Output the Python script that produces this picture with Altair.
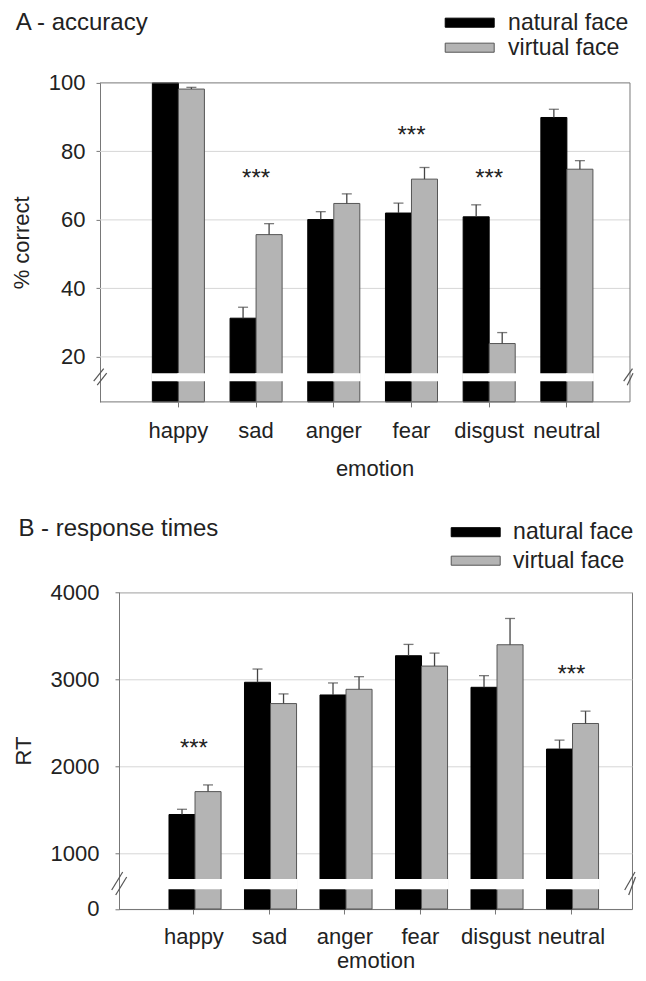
import altair as alt
import pandas as pd

# ---------------- data ----------------
emotions = ["happy", "sad", "anger", "fear", "disgust", "neutral"]
faces = ["natural face", "virtual face"]

acc_natural = [100.0, 31.3, 60.1, 62.0, 60.9, 89.9]
acc_natural_se = [0.0, 3.2, 2.3, 2.9, 3.5, 2.4]
acc_virtual = [98.2, 55.7, 64.8, 71.9, 23.9, 74.8]
acc_virtual_se = [0.5, 3.2, 2.8, 3.4, 3.2, 2.5]

rt_natural = [1446, 2966, 2820, 3271, 2908, 2198]
rt_natural_se = [60, 152, 138, 130, 134, 103]
rt_virtual = [1709, 2721, 2885, 3152, 3397, 2492]
rt_virtual_se = [77, 111, 145, 149, 302, 142]

acc_sig = ["sad", "fear", "disgust"]
acc_sig_y = [73.1, 85.6, 73.1]
rt_sig = ["happy", "neutral"]
rt_sig_y = [2237, 3087]

acc_ticks = [20, 40, 60, 80, 100]
rt_ticks = [360, 1000, 2000, 3000, 4000]   # lowest tick is labelled 0 (broken axis)
acc_grid = [20, 40, 60, 80]
acc_domain = [6.86, 100]
rt_domain = [360, 4000]
acc_break = [13.2, 14.95]
rt_break = [598, 693]
# axis-break slashes: (y_low, y_high) in data units
acc_slashes = [(12.9, 16.56), (11.74, 15.24)]
rt_slashes = [(578, 785), (521, 728)]

FONT = "Liberation Sans"
FS = 22
GRID = "#d6d6d6"
AXC = "#777777"
TXT = "#222222"


def make_df(nat, nat_se, vir, vir_se):
    rows = []
    for i, e in enumerate(emotions):
        rows.append({"emotion": e, "face": faces[0], "value": nat[i], "se": nat_se[i],
                     "hi": nat[i] + nat_se[i]})
        rows.append({"emotion": e, "face": faces[1], "value": vir[i], "se": vir_se[i],
                     "hi": vir[i] + vir_se[i]})
    return pd.DataFrame(rows)


def panel(df, sig, sig_y, domain, ticks, grid, brk, slashes, title, ytitle, g):
    W, H, off = g["W"], g["H"], g["off"]
    xscale = alt.Scale(domain=emotions, paddingInner=g["pi"], paddingOuter=g["po"], align=g["al"])
    xenc = alt.X("emotion:N", scale=xscale,
                 axis=alt.Axis(title="emotion", labelAngle=0, tickSize=5, labelPadding=g["lp"],
                               titleY=g["xty"], titleBaseline="alphabetic", domain=(off == 0),
                               domainColor=AXC, tickColor=AXC, grid=False))
    xs = alt.X("emotion:N", scale=xscale)
    xoff = alt.XOffset("face:N", scale=alt.Scale(domain=faces))
    yscale = alt.Scale(domain=domain, zero=False, nice=False)
    yaxis = alt.Axis(title=ytitle, values=ticks, format="d", grid=(off == 0), gridColor=GRID,
                     offset=off, domainColor=AXC, tickColor=AXC, tickSize=4, labelPadding=g["ylp"],
                     titleX=g["ytx"], titleBaseline="alphabetic",
                     labelExpr=("datum.value < 500 ? '0' : datum.label") if g.get("zero") else "datum.label")
    legend = alt.Legend(orient="none", legendX=g["lx"], legendY=g["ly"], title=None,
                        symbolType="M-2,-0.37L2,-0.37L2,0.37L-2,0.37Z", symbolSize=600,
                        labelFontSize=23, labelFont=FONT, labelColor=TXT, labelOffset=g["lo"],
                        rowPadding=g["rp"], padding=0, symbolStrokeWidth=1)
    base = alt.Chart(df)
    layers = []
    one = pd.DataFrame({"k": [0]})
    if off:
        # grid lines and frame reaching the offset y axis
        layers.append(alt.Chart(pd.DataFrame({"g": grid})).mark_rule(color=GRID, strokeWidth=1).encode(
            x=alt.value(-off), x2=alt.value(W), y=alt.Y("g:Q", scale=yscale)))
    bars = base.mark_bar(strokeWidth=1).encode(
        x=xenc, xOffset=xoff,
        y=alt.Y("value:Q", scale=yscale, axis=yaxis),
        y2=alt.datum(domain[0]),
        color=alt.Color("face:N", scale=alt.Scale(domain=faces, range=["#000000", "#b4b4b4"]),
                        legend=legend),
        stroke=alt.Stroke("face:N", scale=alt.Scale(domain=faces, range=["#000000", "#555555"]),
                          legend=legend),
    )
    errdf = base.transform_filter("datum.se > 0")
    stems = errdf.mark_rule(color="#444444", strokeWidth=1.3).encode(
        x=xs, xOffset=xoff, y="value:Q", y2="hi:Q")
    caps = errdf.mark_tick(color="#444444", thickness=1.3, size=10).encode(
        x=xs, xOffset=xoff, y="hi:Q")
    band = base.mark_bar(color="white", stroke="white", strokeWidth=2).encode(
        x=xs, xOffset=xoff, y=alt.datum(brk[0]), y2=alt.datum(brk[1]))
    stars = alt.Chart(pd.DataFrame({"emotion": sig, "y": sig_y})).mark_text(
        text="***", fontSize=24, font=FONT, baseline="alphabetic", dy=10.5, color=TXT).encode(
        x=xs, y="y:Q")
    layers += [bars, stems, caps, band, stars]
    if off:
        fr = alt.Chart(one).mark_rule(color=AXC, strokeWidth=1)
        layers.append(fr.encode(x=alt.value(-off), x2=alt.value(W), y=alt.value(0)))
        layers.append(fr.encode(x=alt.value(-off), x2=alt.value(W), y=alt.value(H)))
        layers.append(fr.encode(x=alt.value(W), y=alt.value(0), y2=alt.value(H)))
    for k in range(2):
        sdf = pd.DataFrame({"y0": [slashes[k][0]], "y1": [slashes[k][1]]})
        for side, (x0, x1) in ((-off, g["slx"][k]), (W, g["srx"][k])):
            layers.append(alt.Chart(sdf).mark_rule(color="#555555", strokeWidth=1.2).encode(
                x=alt.value(side + x0), x2=alt.value(side + x1), y="y0:Q", y2="y1:Q"))
    layers.append(alt.Chart(one).mark_text(text=title, fontSize=g["tfs"], font=FONT, align="left",
                                           baseline="alphabetic", color=TXT).encode(
        x=alt.value(g["tx"]), y=alt.value(g["ty"])))
    # white frame line that fixes the panel's bounds on the page
    layers.append(alt.Chart(one).mark_rule(color="white", strokeWidth=1).encode(
        x=alt.value(g["bx"]), y=alt.value(g["by0"]), y2=alt.value(g["by1"])))
    ch = alt.layer(*layers).properties(width=W, height=H)
    if off:
        ch = ch.properties(view=alt.ViewBackground(stroke="transparent"))
    return ch


top_g = dict(W=511, H=319, off=19, pi=0.33, po=0.4533, al=0.4735, lp=13.5, xty=73.3, ylp=11,
             ytx=-72, lx=337.7, ly=-73.2, lo=25.4, rp=-5.5,
             slx=[(-6.3, 3.7), (-2.8, 6.7)], srx=[(-6.3, 2.5), (-2.8, 3.0)],
             tfs=24, tx=-103.3, ty=-53, bx=-109.3, by0=-100, by1=402)
bot_g = dict(W=513, H=316.7, off=0, pi=0.34, po=0.5673, al=0.5836, lp=13, xty=59, ylp=16, ytx=-89,
             zero=True, lx=343.7, ly=-73.1, lo=24.4, rp=3.5,
             slx=[(-7.3, 3.7), (-3.3, 7.7)], srx=[(-7.3, 3.0), (-3.3, 3.5)],
             tfs=24, tx=-100.6, ty=-56, bx=-109.3, by0=-100, by1=402)

top = panel(make_df(acc_natural, acc_natural_se, acc_virtual, acc_virtual_se),
            acc_sig, acc_sig_y, acc_domain, acc_ticks, acc_grid, acc_break, acc_slashes,
            "A - accuracy", "% correct", top_g)
bottom = panel(make_df(rt_natural, rt_natural_se, rt_virtual, rt_virtual_se),
               rt_sig, rt_sig_y, rt_domain, rt_ticks, None, rt_break, rt_slashes,
               "B - response times", "RT", bot_g)

chart = alt.vconcat(top, bottom, spacing=5.4).resolve_scale(
    color="independent", stroke="independent"
).resolve_legend(color="independent", stroke="independent").properties(
    padding={"top": -26.1, "left": 0, "right": 0, "bottom": -23}
).configure(font=FONT).configure_view(stroke=AXC, strokeWidth=1).configure_axis(
    labelFont=FONT, titleFont=FONT, labelFontSize=FS, titleFontSize=FS,
    labelColor=TXT, titleColor=TXT, titleFontWeight="normal",
).configure_legend(labelFont=FONT)

chart.save("out.html", embed_options={"renderer": "svg", "actions": False})
